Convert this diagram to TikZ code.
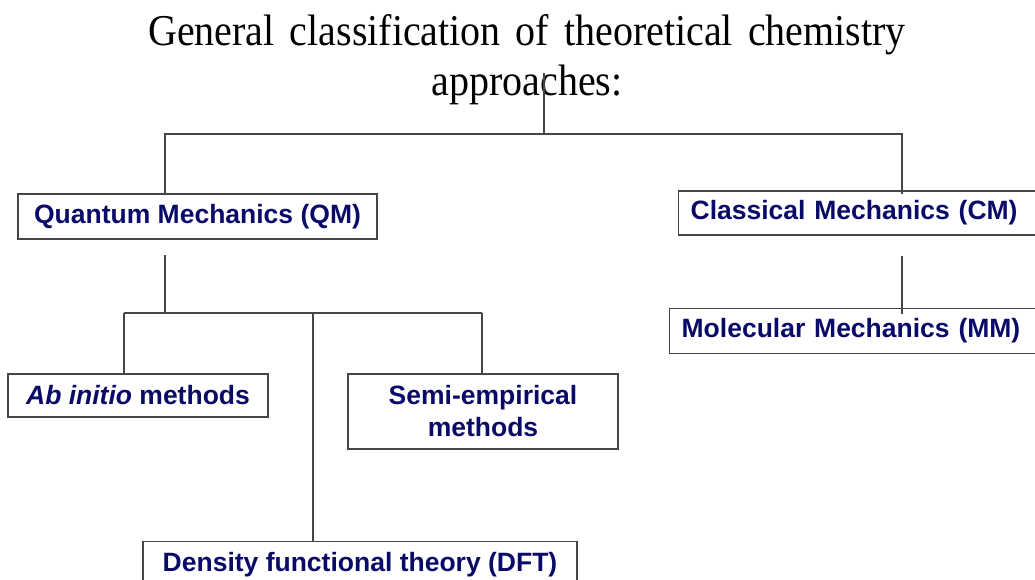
\documentclass[tikz,border=0pt]{standalone}
\usepackage{fontspec}
\setmainfont{Liberation Serif}
\newfontfamily\chemsans{Liberation Sans}
\usetikzlibrary{positioning}
\definecolor{chemnavy}{RGB}{10,10,105}
\definecolor{chemgrey}{RGB}{70,70,70}
\newcommand{\ChemFont}{\chemsans\bfseries\fontsize{26.5}{32}\selectfont}
\newcommand{\TitleFont}{\fontsize{40}{40}\selectfont}
\newcommand{\TitleLine}[1]{\scalebox{1}[1.1]{#1}}
\tikzset{
	chembox/.style={draw=chemgrey, line width=1.3pt, fill=white, inner xsep=12pt, inner ysep=0pt, text=chemnavy, font=\ChemFont},
	cutbox/.style={chembox, anchor=west, text width=355pt, align=left},
	chemlink/.style={draw=chemgrey, line width=1.3pt},
}

\begin{document}
\begin{tikzpicture}[x=1pt, y=-1pt]
		\useasboundingbox (0,0) rectangle (1035,580);
		\clip (0,0) rectangle (1035,580);

		% title
		\node[anchor=base, font=\TitleFont] (title) at (527,46) {\TitleLine{\spaceskip=15pt\relax General classification of theoretical chemistry}};
		\node[anchor=base, font=\TitleFont] (titleb) at (527,96) {\TitleLine{approaches:}};

		% first level
		\node[chembox, minimum width=359pt, minimum height=45pt] (qm) at (197.5,216.5) {Quantum Mechanics (QM)};
		\node[cutbox, minimum height=44pt] (cm) at (678,213) {Classical Mechanics (CM)};

		% second level
		\node[cutbox, minimum height=45pt, xshift=-9pt, below=72pt of cm.south west, anchor=north west] (mm) {Molecular Mechanics (MM)};
		\node[chembox, minimum width=260pt, minimum height=43pt] (ab) at (138,395.5) {\textit{Ab initio} methods};
		\node[chembox, minimum width=270pt, minimum height=75pt, align=center] (semi) at (483,411.5) {Semi-empirical\\methods};
		\node[chembox, minimum width=434pt, minimum height=45pt, anchor=north] (dft) at (360,541) {Density functional theory (DFT)};

		% connectors
		\coordinate (stem) at (544,73);
		\coordinate (hub) at (544,134);
		\coordinate (qmtap) at (165,134);
		\coordinate (cmtap) at (902,134);
		\coordinate (qmfoot) at (165,255);
		\coordinate (split) at (165,313);
		\coordinate (abtap) at (124,313);
		\coordinate (dfttap) at (313,313);
		\coordinate (semitap) at (482,313);
		\coordinate (cmfoot) at (902,256);

		\draw[chemlink] (stem) -- (hub);
		\draw[chemlink] (qm.north -| qmtap) -- (qmtap) -- (cmtap) -- ([yshift=-4pt]cm.north -| cmtap);
		\draw[chemlink] (qmfoot) -- (split);
		\draw[chemlink] (abtap) -- (semitap);
		\draw[chemlink] (abtap) -- (ab.north -| abtap);
		\draw[chemlink] (dfttap) -- (dft.north -| dfttap);
		\draw[chemlink] (semitap) -- (semi.north -| semitap);
		\draw[chemlink] (cmfoot) -- ([yshift=-6pt]mm.north -| cmfoot);
\end{tikzpicture}
\end{document}
